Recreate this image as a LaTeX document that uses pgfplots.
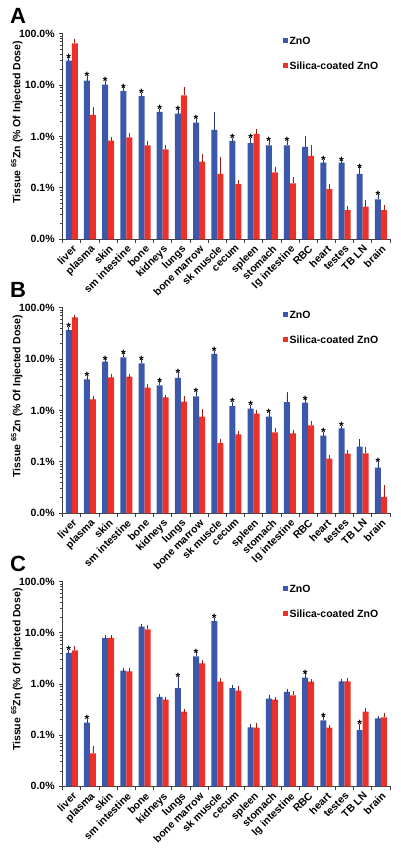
\documentclass[border=0pt]{standalone}
\usepackage{fontspec}
\setmainfont{Liberation Sans}
\usepackage{pgfplots}
\pgfplotsset{compat=1.18}
\usepackage{pgfplotstable}
\definecolor{zblue}{RGB}{60,88,170}
\definecolor{zred}{RGB}{237,48,40}
\definecolor{zblued}{RGB}{40,58,120}
\definecolor{zredd}{RGB}{160,30,25}

\pgfplotstableread{
x z zt s st
0 29.9 31.7 64.9 71
1 12.2 13.7 2.62 3.38
2 10.2 11.1 0.83 0.88
3 7.6 8.3 0.96 1.07
4 6.1 6.5 0.67 0.76
5 3.0 3.18 0.56 0.63
6 2.78 3.09 6.3 8.3
7 1.86 2.03 0.324 0.42
8 1.34 2.70 0.187 0.37
9 0.82 0.855 0.119 0.130
10 0.74 0.855 1.13 1.26
11 0.67 0.76 0.20 0.23
12 0.67 0.76 0.123 0.151
13 0.63 0.935 0.418 0.625
14 0.31 0.324 0.095 0.107
15 0.31 0.315 0.037 0.040
16 0.187 0.23 0.043 0.053
17 0.06 0.066 0.037 0.043
}\dataA
\pgfplotstableread{
x y
0 31.7
1 13.7
2 11.1
3 8.3
4 6.5
5 3.18
6 3.09
7 2.03
9 0.855
10 0.855
11 0.76
12 0.76
14 0.324
15 0.315
16 0.23
17 0.066
}\starA

\pgfplotstableread{
x z zt s st
0 36.8 39 64.9 66
1 4.04 4.35 1.65 1.72
2 8.9 9.1 4.42 4.7
3 10.8 11.8 4.55 4.6
4 8.3 9.1 2.78 2.95
5 3.09 3.38 1.80 1.81
6 4.29 4.9 1.49 1.72
7 1.89 2.09 0.76 0.98
8 12.6 13.1 0.233 0.251
9 1.22 1.34 0.344 0.365
10 1.09 1.17 0.867 0.92
11 0.76 0.83 0.376 0.424
12 1.46 2.09 0.36 0.387
13 1.42 1.51 0.514 0.56
14 0.324 0.35 0.116 0.125
15 0.45 0.46 0.145 0.154
16 0.198 0.251 0.146 0.178
17 0.077 0.092 0.0208 0.032
}\dataB
\pgfplotstableread{
x y
0 39
1 4.35
2 9.1
3 11.8
4 9.1
5 3.38
6 4.9
7 2.09
8 13.1
9 1.34
10 1.17
11 0.83
13 1.51
14 0.35
15 0.46
17 0.092
}\starB

\pgfplotstableread{
x z zt s st
0 4.04 4.22 4.55 4.98
1 0.176 0.189 0.0442 0.057
2 7.9 8.3 7.9 8.4
3 1.82 1.84 1.77 1.9
4 13.2 13.8 11.7 12.8
5 0.557 0.58 0.494 0.52
6 0.835 1.25 0.288 0.30
7 3.47 3.8 2.54 2.69
8 17.0 17.7 1.11 1.20
9 0.835 0.887 0.741 0.85
10 0.142 0.148 0.140 0.158
11 0.517 0.565 0.494 0.51
12 0.698 0.73 0.601 0.66
13 1.33 1.48 1.11 1.15
14 0.195 0.213 0.140 0.145
15 1.13 1.16 1.13 1.2
16 0.126 0.151 0.288 0.31
17 0.213 0.22 0.223 0.248
}\dataC
\pgfplotstableread{
x y
0 4.22
1 0.189
6 1.25
7 3.8
8 17.7
13 1.48
14 0.213
16 0.151
}\starC

\newcommand{\lblfont}{\bfseries\fontsize{10.5}{12}\selectfont}
\newcommand{\starfont}{\bfseries\fontsize{12}{12}\selectfont}
\newcommand{\letfont}{\bfseries\fontsize{22}{22}\selectfont}

\begin{document}
\begin{tikzpicture}
\path[use as bounding box] (0,0) rectangle (400pt,856pt);

% ---------------- A ----------------
\begin{axis}[scale only axis, width=327.3pt, height=205.6pt, anchor=south west, at={(62.7pt,616.7pt)},
    ymode=log, log origin=infty, ymin=0.01, ymax=100,
    xmin=-0.5, xmax=17.5, clip=false,
    axis lines*=left,
    axis line style={line width=0.8pt, black!75},
    every tick/.style={line width=0.8pt, black!75},
    tick align=outside, major tick length=3.5pt,
    ytick={0.01,0.1,1,10,100},
    yticklabels={0.0\%,0.1\%,1.0\%,10.0\%,100.0\%},
    xtick={-0.5,0.5,...,17.5},
    xticklabels={liver,plasma,skin,sm intestine,bone,kidneys,lungs,bone marrow,sk muscle,cecum,spleen,stomach,lg intestine,RBC,heart,testes,TB LN,brain},
    ticklabel style={font=\lblfont},
    yticklabel style={xshift=-1pt},
    xticklabel style={xshift=9.09pt, rotate=45, anchor=north east, inner sep=1pt},
    ylabel={Tissue \textsuperscript{65}Zn (\% Of Injected Dose)},
    ylabel style={font=\lblfont, at={(axis description cs:-0.14,0.57)}, anchor=center},
    legend style={at={(0.672,0.995)}, anchor=north west, draw=none, fill=none, inner sep=0pt, font=\lblfont, row sep=12pt},
    legend cell align=left,
]
\addplot[ybar, bar width=6pt, bar shift=-3pt, fill=zblue, draw=none,
  legend image code/.code={\fill[zblue] (0pt,-1.5pt) rectangle (4.7pt,3.2pt);},
  error bars/.cd, y dir=plus, y explicit,
  error bar style={zblued, line width=0.6pt, xshift=-3pt},
  error mark options={zblued, line width=0.6pt, mark size=2pt}]
  table[x=x, y=z, y error plus expr=\thisrow{zt}-\thisrow{z}] {\dataA};
\addplot[ybar, bar width=6pt, bar shift=3pt, fill=zred, draw=none,
  legend image code/.code={\fill[zred] (0pt,-1.5pt) rectangle (4.7pt,3.2pt);},
  error bars/.cd, y dir=plus, y explicit,
  error bar style={zredd, line width=0.6pt, xshift=3pt},
  error mark options={zredd, line width=0.6pt, mark size=2pt}]
  table[x=x, y=s, y error plus expr=\thisrow{st}-\thisrow{s}] {\dataA};
\addplot[draw=none, mark=none, forget plot, nodes near coords={*},
  every node near coord/.append style={anchor=south, xshift=-3pt, yshift=-3pt, inner sep=0pt, font=\starfont, black}]
  table[x=x, y=y] {\starA};
\legend{ZnO, Silica-coated ZnO}
\node[anchor=north west, inner sep=0pt, font=\letfont] at (rel axis cs:-0.161,1.124) {A};
\end{axis}

% ---------------- B ----------------
\begin{axis}[scale only axis, width=327.3pt, height=205.6pt, anchor=south west, at={(62.7pt,342.7pt)},
    ymode=log, log origin=infty, ymin=0.01, ymax=100,
    xmin=-0.5, xmax=17.5, clip=false,
    axis lines*=left,
    axis line style={line width=0.8pt, black!75},
    every tick/.style={line width=0.8pt, black!75},
    tick align=outside, major tick length=3.5pt,
    ytick={0.01,0.1,1,10,100},
    yticklabels={0.0\%,0.1\%,1.0\%,10.0\%,100.0\%},
    xtick={-0.5,0.5,...,17.5},
    xticklabels={liver,plasma,skin,sm intestine,bone,kidneys,lungs,bone marrow,sk muscle,cecum,spleen,stomach,lg intestine,RBC,heart,testes,TB LN,brain},
    ticklabel style={font=\lblfont},
    yticklabel style={xshift=-1pt},
    xticklabel style={xshift=9.09pt, rotate=45, anchor=north east, inner sep=1pt},
    ylabel={Tissue \textsuperscript{65}Zn (\% Of Injected Dose)},
    ylabel style={font=\lblfont, at={(axis description cs:-0.14,0.57)}, anchor=center},
    legend style={at={(0.672,0.995)}, anchor=north west, draw=none, fill=none, inner sep=0pt, font=\lblfont, row sep=12pt},
    legend cell align=left,
]
\addplot[ybar, bar width=6pt, bar shift=-3pt, fill=zblue, draw=none,
  legend image code/.code={\fill[zblue] (0pt,-1.5pt) rectangle (4.7pt,3.2pt);},
  error bars/.cd, y dir=plus, y explicit,
  error bar style={zblued, line width=0.6pt, xshift=-3pt},
  error mark options={zblued, line width=0.6pt, mark size=2pt}]
  table[x=x, y=z, y error plus expr=\thisrow{zt}-\thisrow{z}] {\dataB};
\addplot[ybar, bar width=6pt, bar shift=3pt, fill=zred, draw=none,
  legend image code/.code={\fill[zred] (0pt,-1.5pt) rectangle (4.7pt,3.2pt);},
  error bars/.cd, y dir=plus, y explicit,
  error bar style={zredd, line width=0.6pt, xshift=3pt},
  error mark options={zredd, line width=0.6pt, mark size=2pt}]
  table[x=x, y=s, y error plus expr=\thisrow{st}-\thisrow{s}] {\dataB};
\addplot[draw=none, mark=none, forget plot, nodes near coords={*},
  every node near coord/.append style={anchor=south, xshift=-3pt, yshift=-3pt, inner sep=0pt, font=\starfont, black}]
  table[x=x, y=y] {\starB};
\legend{ZnO, Silica-coated ZnO}
\node[anchor=north west, inner sep=0pt, font=\letfont] at (rel axis cs:-0.161,1.124) {B};
\end{axis}

% ---------------- C ----------------
\begin{axis}[scale only axis, width=327.3pt, height=204.6pt, anchor=south west, at={(62.7pt,69.7pt)},
    ymode=log, log origin=infty, ymin=0.01, ymax=100,
    xmin=-0.5, xmax=17.5, clip=false,
    axis lines*=left,
    axis line style={line width=0.8pt, black!75},
    every tick/.style={line width=0.8pt, black!75},
    tick align=outside, major tick length=3.5pt,
    ytick={0.01,0.1,1,10,100},
    yticklabels={0.0\%,0.1\%,1.0\%,10.0\%,100.0\%},
    xtick={-0.5,0.5,...,17.5},
    xticklabels={liver,plasma,skin,sm intestine,bone,kidneys,lungs,bone marrow,sk muscle,cecum,spleen,stomach,lg intestine,RBC,heart,testes,TB LN,brain},
    ticklabel style={font=\lblfont},
    yticklabel style={xshift=-1pt},
    xticklabel style={xshift=9.09pt, rotate=45, anchor=north east, inner sep=1pt},
    ylabel={Tissue \textsuperscript{65}Zn (\% Of Injected Dose)},
    ylabel style={font=\lblfont, at={(axis description cs:-0.14,0.57)}, anchor=center},
    legend style={at={(0.672,0.995)}, anchor=north west, draw=none, fill=none, inner sep=0pt, font=\lblfont, row sep=12pt},
    legend cell align=left,
]
\addplot[ybar, bar width=6pt, bar shift=-3pt, fill=zblue, draw=none,
  legend image code/.code={\fill[zblue] (0pt,-1.5pt) rectangle (4.7pt,3.2pt);},
  error bars/.cd, y dir=plus, y explicit,
  error bar style={zblued, line width=0.6pt, xshift=-3pt},
  error mark options={zblued, line width=0.6pt, mark size=2pt}]
  table[x=x, y=z, y error plus expr=\thisrow{zt}-\thisrow{z}] {\dataC};
\addplot[ybar, bar width=6pt, bar shift=3pt, fill=zred, draw=none,
  legend image code/.code={\fill[zred] (0pt,-1.5pt) rectangle (4.7pt,3.2pt);},
  error bars/.cd, y dir=plus, y explicit,
  error bar style={zredd, line width=0.6pt, xshift=3pt},
  error mark options={zredd, line width=0.6pt, mark size=2pt}]
  table[x=x, y=s, y error plus expr=\thisrow{st}-\thisrow{s}] {\dataC};
\addplot[draw=none, mark=none, forget plot, nodes near coords={*},
  every node near coord/.append style={anchor=south, xshift=-3pt, yshift=-3pt, inner sep=0pt, font=\starfont, black}]
  table[x=x, y=y] {\starC};
\legend{ZnO, Silica-coated ZnO}
\node[anchor=north west, inner sep=0pt, font=\letfont] at (rel axis cs:-0.161,1.124) {C};
\end{axis}
\end{tikzpicture}
\end{document}
